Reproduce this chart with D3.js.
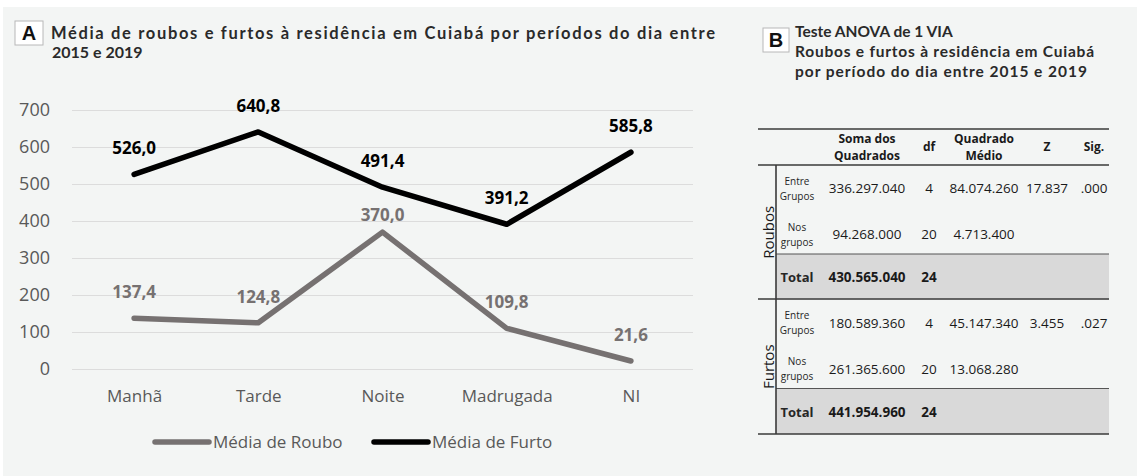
<!DOCTYPE html>
<html>
<head>
<meta charset="utf-8">
<script src="https://cdn.jsdelivr.net/npm/d3@7"></script>
<style>
  body { margin: 0; background: #fff; }
  svg { display: block; }
</style>
</head>
<body>
<svg id="chart" width="1137" height="476"></svg>
<script>
// chart A data
const periods = ["Manhã", "Tarde", "Noite", "Madrugada", "NI"];
const roubo = [137.4, 124.8, 370.0, 109.8, 21.6];
const furto = [526.0, 640.8, 491.4, 391.2, 585.8];
const y_ticks = [0, 100, 200, 300, 400, 500, 600, 700];

// table B data
const anova_head = [["Soma dos", "Quadrados"], ["df"], ["Quadrado", "Médio"], ["Z"], ["Sig."]];
const anova_groups = ["Roubos", "Furtos"];
const anova_rowlabels = [["Entre", "Grupos"], ["Nos", "grupos"], ["Total"]];
const roubos_rows = [
  ["336.297.040", "4", "84.074.260", "17.837", ".000"],
  ["94.268.000", "20", "4.713.400", "", ""],
  ["430.565.040", "24", "", "", ""]
];
const furtos_rows = [
  ["180.589.360", "4", "45.147.340", "3.455", ".027"],
  ["261.365.600", "20", "13.068.280", "", ""],
  ["441.954.960", "24", "", "", ""]
];

const svg = d3.select("#chart");
const font = "'Open Sans', sans-serif";
const titleFont = "Lato, 'DejaVu Sans', sans-serif";

svg.append("rect")
  .attr("x", 3).attr("y", 7)
  .attr("width", 1134).attr("height", 469)
  .attr("fill", "#f3f5f4");

// ---------- panel A ----------
function panelBox(x, y, w, h, letter) {
  svg.append("rect")
    .attr("x", x).attr("y", y).attr("width", w).attr("height", h)
    .attr("fill", "#fff").attr("stroke", "#b8b8b8").attr("stroke-width", 1);
  svg.append("text")
    .attr("x", x + w / 2).attr("y", y + h / 2 + 7)
    .attr("text-anchor", "middle")
    .attr("font-family", "'Liberation Sans', Arial, sans-serif")
    .attr("font-weight", "bold").attr("font-size", 20)
    .attr("fill", "#111").text(letter);
}

panelBox(15, 21, 28, 24, "A");
svg.append("text")
  .attr("x", 51).attr("y", 39)
  .attr("font-family", titleFont).attr("font-weight", 700)
  .attr("font-size", 16.5).attr("fill", "#2a2a2a")
  .attr("textLength", 664).attr("lengthAdjust", "spacing")
  .text("Média de roubos e furtos à residência em Cuiabá por períodos do dia entre");
svg.append("text")
  .attr("x", 52).attr("y", 58)
  .attr("font-family", titleFont).attr("font-weight", 700)
  .attr("font-size", 16).attr("fill", "#2a2a2a")
  .text("2015 e 2019");

const x = d3.scalePoint().domain(periods).range([72, 693]).padding(0.5);
const y = d3.scaleLinear().domain([0, 700]).range([369, 110]);

const gy = svg.append("g")
  .attr("transform", "translate(72,0)")
  .call(d3.axisLeft(y).tickValues(y_ticks).tickSize(-621).tickPadding(22));
gy.select(".domain").remove();
gy.selectAll(".tick line").attr("stroke", "#dcdcdc").attr("stroke-width", 1.2);
gy.selectAll(".tick text")
  .attr("font-family", font).attr("font-size", 18).attr("fill", "#595959");

const gx = svg.append("g")
  .attr("transform", "translate(0,369)")
  .call(d3.axisBottom(x).tickSize(0).tickPadding(21));
gx.select(".domain").remove();
gx.selectAll(".tick text")
  .attr("font-family", font).attr("font-size", 17).attr("fill", "#595959");

const series = [
  { name: "Média de Roubo", values: roubo, color: "#767171" },
  { name: "Média de Furto", values: furto, color: "#000000" }
];

const line = d3.line()
  .x((d, i) => x(periods[i]))
  .y(d => y(d));

series.forEach((s, si) => {
  svg.append("path")
    .datum(s.values)
    .attr("d", line)
    .attr("fill", "none")
    .attr("stroke", s.color)
    .attr("stroke-width", 5.5)
    .attr("stroke-linejoin", "round")
    .attr("stroke-linecap", "round");

  svg.append("g").selectAll("text")
    .data(s.values).enter()
    .append("text")
    .attr("x", (d, i) => x(periods[i]))
    // Noite roubo label sits closer to its point in the original
    .attr("y", (d, i) => y(d) - (si === 0 && i === 2 ? 17 : 26) + 6)
    .attr("text-anchor", "middle")
    .attr("font-family", font).attr("font-weight", 700)
    .attr("font-size", 17).attr("fill", s.color)
    .text(d => d3.format(".1f")(d).replace(".", ","));
});

// legend
const legend = svg.append("g").attr("transform", "translate(0,442)");
const legendX = [152, 371];
series.forEach((s, i) => {
  legend.append("line")
    .attr("x1", legendX[i] + 3).attr("x2", legendX[i] + 57)
    .attr("stroke", s.color).attr("stroke-width", 5.5)
    .attr("stroke-linecap", "round");
  legend.append("text")
    .attr("x", legendX[i] + 61).attr("y", 6)
    .attr("font-family", font).attr("font-size", 17).attr("fill", "#595959")
    .text(s.name);
});

// ---------- panel B ----------
panelBox(763, 28, 26, 24, "B");
const titleB = ["Teste ANOVA de 1 VIA", "Roubos e furtos à residência em Cuiabá", "por período do dia entre 2015 e 2019"];
const titleBLen = [null, 299, 292];
titleB.forEach((t, i) => {
  const el = svg.append("text")
    .attr("x", 795).attr("y", 37 + i * 20)
    .attr("font-family", titleFont).attr("font-weight", 700)
    .attr("font-size", 15.5).attr("fill", "#2a2a2a")
    .text(t);
  if (titleBLen[i]) el.attr("textLength", titleBLen[i]).attr("lengthAdjust", "spacing");
});

const tLeft = 758, tRight = 1109, tSplit = 776;
const colX = [867, 929, 984, 1047, 1094];
const sec = d3.scaleBand().domain(anova_groups).range([165, 434]);
const rowOff = [23, 69, 112];
const bandTop = 89;

const tbl = svg.append("g");

// header
anova_head.forEach((h, i) => {
  h.forEach((w, j) => {
    tbl.append("text")
      .attr("x", colX[i])
      .attr("y", 147 + (j - (h.length - 1) / 2) * 17 + 4)
      .attr("text-anchor", "middle")
      .attr("font-family", font).attr("font-weight", 700)
      .attr("font-size", 12).attr("fill", "#1a1a1a")
      .text(w);
  });
});

[roubos_rows, furtos_rows].forEach((rows, gi) => {
  const top = sec(anova_groups[gi]);
  const h = sec.bandwidth();

  tbl.append("rect")
    .attr("x", tSplit).attr("y", top + bandTop)
    .attr("width", tRight - tSplit).attr("height", h - bandTop)
    .attr("fill", "#d9d9d9");
  tbl.append("line")
    .attr("x1", tSplit).attr("x2", tRight)
    .attr("y1", top + bandTop).attr("y2", top + bandTop)
    .attr("stroke", "#555").attr("stroke-width", 1.2);

  tbl.append("text")
    .attr("transform", `translate(${768 + 6},${top + h / 2}) rotate(-90)`)
    .attr("text-anchor", "middle")
    .attr("font-family", font).attr("font-size", 15).attr("fill", "#1a1a1a")
    .text(anova_groups[gi]);

  rows.forEach((r, ri) => {
    const cy = top + rowOff[ri];
    const bold = ri === 2;
    const lab = anova_rowlabels[ri];
    lab.forEach((w, j) => {
      tbl.append("text")
        .attr("x", 797)
        .attr("y", cy + (lab.length > 1 ? (j - 0.5) * 15 : 0) + (bold ? 5 : 4))
        .attr("text-anchor", "middle")
        .attr("font-family", font)
        .attr("font-weight", bold ? 700 : 400)
        .attr("font-size", bold ? 13 : 10).attr("fill", "#262626")
        .text(w);
    });
    r.forEach((v, ci) => {
      tbl.append("text")
        .attr("x", colX[ci]).attr("y", cy + 5)
        .attr("text-anchor", "middle")
        .attr("font-family", font)
        .attr("font-weight", bold ? 700 : 400)
        .attr("font-size", 13.5).attr("fill", "#1a1a1a")
        .text(v);
    });
  });
});

// table rules
[129, 165, 299, 434].forEach(yy => {
  tbl.append("line")
    .attr("x1", tLeft).attr("x2", tRight)
    .attr("y1", yy).attr("y2", yy)
    .attr("stroke", "#3a3a3a").attr("stroke-width", 1.6);
});
tbl.append("line")
  .attr("x1", tSplit).attr("x2", tSplit)
  .attr("y1", 165).attr("y2", 434)
  .attr("stroke", "#3a3a3a").attr("stroke-width", 1.6);
</script>
</body>
</html>
